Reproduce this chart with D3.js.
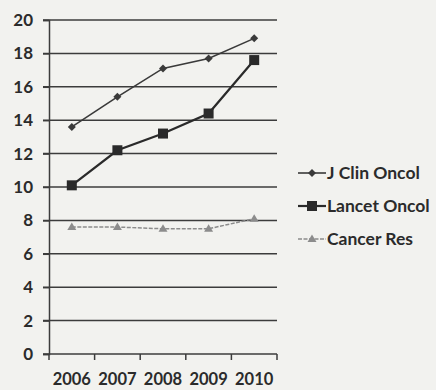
<!DOCTYPE html>
<html>
<head>
<meta charset="utf-8">
<script src="https://cdn.jsdelivr.net/npm/d3@7"></script>
<style>
  html, body { margin: 0; padding: 0; background: #f2f2ef; }
  svg { display: block; }
  text { font-family: Lato, "Open Sans", sans-serif; fill: #2b2b2b; }
</style>
</head>
<body>
<svg id="chart" width="436" height="390"></svg>
<script>
// Publication counts by journal, 2006–2010
const years = ["2006", "2007", "2008", "2009", "2010"];
const jClinOncol = [13.6, 15.4, 17.1, 17.7, 18.9];
const lancetOncol = [10.1, 12.2, 13.2, 14.4, 17.6];
const cancerRes = [7.6, 7.6, 7.5, 7.5, 8.1];
const yTicks = [0, 2, 4, 6, 8, 10, 12, 14, 16, 18, 20];

const series = [
  { name: "J Clin Oncol", values: jClinOncol, color: "#3a3a3a", width: 1.6, dash: null, marker: "diamond" },
  { name: "Lancet Oncol", values: lancetOncol, color: "#2a2a2a", width: 2.2, dash: null, marker: "square" },
  { name: "Cancer Res", values: cancerRes, color: "#8c8c8c", width: 1.5, dash: "4,1.5", marker: "triangle" }
];

const svg = d3.select("#chart");
const plotLeft = 49, plotRight = 277, plotTop = 20, plotBottom = 354;

const x = d3.scaleBand().domain(years).range([plotLeft, plotRight]).padding(0);
const y = d3.scaleLinear().domain([0, 20]).range([plotBottom, plotTop]);

// Horizontal gridlines
svg.append("g")
  .selectAll("line")
  .data(yTicks.filter(d => d > 0))
  .join("line")
  .attr("x1", plotLeft - 6).attr("x2", plotRight)
  .attr("y1", d => y(d)).attr("y2", d => y(d))
  .attr("stroke", "#3c3c3c").attr("stroke-width", 1.5);

// Y axis
const yAxis = svg.append("g")
  .attr("transform", `translate(${plotLeft},0)`)
  .call(d3.axisLeft(y).tickValues(yTicks).tickSize(6).tickPadding(10));
yAxis.select(".domain").attr("stroke", "#3c3c3c").attr("stroke-width", 1.5);
yAxis.selectAll(".tick line").attr("stroke", "#3c3c3c").attr("stroke-width", 1.5);
yAxis.selectAll("text")
  .style("font-size", "17px").style("font-weight", "700")
  .style("font-family", "Lato, 'Open Sans', sans-serif").attr("fill", "#2b2b2b");

// X axis with tick marks on category boundaries
const xAxisG = svg.append("g").attr("transform", `translate(0,${plotBottom})`);
xAxisG.append("line")
  .attr("x1", plotLeft - 6).attr("x2", plotRight)
  .attr("stroke", "#3c3c3c").attr("stroke-width", 1.5);
const boundaries = years.map(d => x(d)).concat([x(years[years.length - 1]) + x.bandwidth()]);
xAxisG.selectAll("line.b")
  .data(boundaries)
  .join("line")
  .attr("class", "b")
  .attr("x1", d => d).attr("x2", d => d)
  .attr("y1", 0).attr("y2", 6)
  .attr("stroke", "#3c3c3c").attr("stroke-width", 1.5);
xAxisG.selectAll("text")
  .data(years)
  .join("text")
  .attr("x", d => x(d) + x.bandwidth() / 2)
  .attr("y", 31)
  .attr("text-anchor", "middle")
  .style("font-size", "16.5px").style("font-weight", "700")
  .text(d => d);

const cx = d => x(d) + x.bandwidth() / 2;

function drawMarker(g, type, color, px, py) {
  if (type === "square") {
    g.append("rect").attr("x", px - 5).attr("y", py - 5).attr("width", 10).attr("height", 10)
      .attr("fill", color);
  } else if (type === "diamond") {
    g.append("path").attr("d", `M${px},${py - 4}L${px + 4},${py}L${px},${py + 4}L${px - 4},${py}Z`)
      .attr("fill", color);
  } else {
    g.append("path").attr("d", `M${px},${py - 4.5}L${px + 4.5},${py + 3}L${px - 4.5},${py + 3}Z`)
      .attr("fill", color);
  }
}

const line = d3.line().x((d, i) => cx(years[i])).y(d => y(d));

series.slice().reverse().forEach(s => {
  const g = svg.append("g");
  g.append("path")
    .datum(s.values)
    .attr("d", line)
    .attr("fill", "none")
    .attr("stroke", s.color)
    .attr("stroke-width", s.width)
    .attr("stroke-dasharray", s.dash);
  s.values.forEach((v, i) => drawMarker(g, s.marker, s.color, cx(years[i]), y(v)));
});

// Legend
const legend = svg.append("g");
series.forEach((s, i) => {
  const ly = 173 + i * 33;
  const g = legend.append("g");
  g.append("line").attr("x1", 298).attr("x2", 326).attr("y1", ly).attr("y2", ly)
    .attr("stroke", s.color).attr("stroke-width", s.width)
    .attr("stroke-dasharray", s.dash);
  drawMarker(g, s.marker, s.color, 312, ly);
  g.append("text").attr("x", 327).attr("y", ly + 6)
    .style("font-size", "17.5px").style("font-weight", "700")
    .text(s.name);
});
</script>
</body>
</html>
